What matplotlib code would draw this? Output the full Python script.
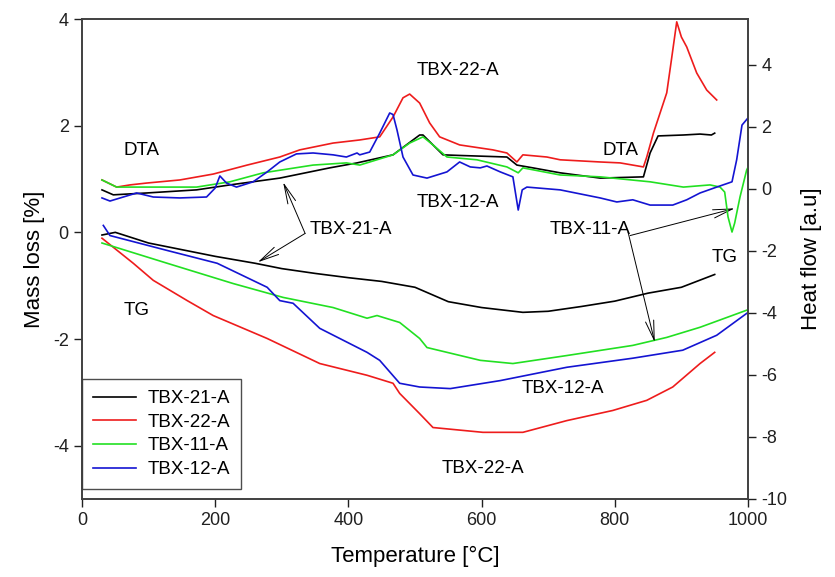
import matplotlib
matplotlib.use("Agg")
import matplotlib.pyplot as plt

plt.rcParams['font.family'] = ['Liberation Sans', 'DejaVu Sans']
plt.rcParams['axes.unicode_minus'] = False

# ---- TG curves (mass loss, left axis) ----
tg_21_T = [30, 50, 100, 200, 260, 300, 350, 400, 450, 500, 550, 600, 662, 700, 750, 800, 850, 900, 950]
tg_21_v = [-0.05, 0.0, -0.2, -0.45, -0.58, -0.68, -0.77, -0.85, -0.92, -1.03, -1.3, -1.41, -1.5, -1.48, -1.39, -1.29, -1.14, -1.03, -0.79]

tg_22_T = [30, 77, 107, 158, 197, 278, 357, 428, 467, 477, 507, 527, 602, 662, 728, 797, 848, 887, 928, 950]
tg_22_v = [-0.11, -0.58, -0.9, -1.28, -1.56, -1.99, -2.46, -2.68, -2.83, -3.02, -3.4, -3.66, -3.75, -3.75, -3.53, -3.34, -3.15, -2.9, -2.46, -2.25]

tg_11_T = [30, 128, 227, 302, 377, 428, 443, 477, 507, 518, 598, 647, 728, 827, 878, 928, 998]
tg_11_v = [-0.2, -0.58, -0.96, -1.22, -1.41, -1.61, -1.56, -1.69, -1.99, -2.16, -2.4, -2.46, -2.31, -2.12, -1.97, -1.78, -1.46]

tg_12_T = [32, 42, 128, 203, 278, 297, 317, 357, 428, 447, 477, 507, 553, 628, 728, 827, 902, 953, 998]
tg_12_v = [0.13, -0.06, -0.34, -0.58, -1.03, -1.28, -1.33, -1.8, -2.25, -2.4, -2.83, -2.9, -2.93, -2.78, -2.53, -2.36, -2.21, -1.93, -1.52]

# ---- DTA curves (heat flow, right axis) ----
dta_21_T = [30, 47, 97, 172, 222, 297, 372, 413, 467, 507, 512, 542, 567, 638, 653, 677, 718, 778, 843, 853, 865, 903, 928, 945, 950]
dta_21_v = [-0.03, -0.19, -0.13, -0.03, 0.13, 0.35, 0.68, 0.84, 1.1, 1.74, 1.74, 1.1, 1.08, 1.03, 0.77, 0.68, 0.52, 0.35, 0.39, 1.16, 1.71, 1.74, 1.77, 1.74, 1.8]

dta_22_T = [30, 52, 72, 97, 147, 197, 248, 297, 327, 377, 417, 447, 467, 482, 492, 507, 522, 537, 567, 617, 638, 653, 662, 698, 718, 778, 808, 843, 848, 858, 868, 878, 885, 893, 900, 908, 923, 938, 953]
dta_22_v = [0.29, 0.06, 0.13, 0.19, 0.29, 0.48, 0.77, 1.03, 1.26, 1.48, 1.58, 1.68, 2.32, 2.94, 3.06, 2.77, 2.13, 1.68, 1.42, 1.26, 1.16, 0.87, 1.1, 1.03, 0.94, 0.87, 0.84, 0.71, 1.03, 1.8, 2.45, 3.1, 4.16, 5.39, 4.9, 4.58, 3.74, 3.19, 2.87]

dta_11_T = [30, 52, 97, 172, 222, 272, 347, 397, 417, 467, 492, 512, 527, 548, 593, 638, 655, 662, 718, 778, 853, 903, 943, 958, 965, 970, 976, 980, 988, 998, 1000]
dta_11_v = [0.29, 0.06, 0.06, 0.06, 0.23, 0.52, 0.77, 0.84, 0.77, 1.1, 1.48, 1.68, 1.42, 1.03, 0.94, 0.71, 0.52, 0.68, 0.45, 0.39, 0.23, 0.06, 0.13, 0.06, -0.1, -0.9, -1.39, -1.1, -0.26, 0.61, 0.7]

dta_12_T = [30, 42, 62, 82, 107, 147, 187, 200, 207, 217, 232, 257, 278, 297, 322, 347, 377, 397, 413, 417, 432, 447, 462, 467, 473, 482, 497, 518, 548, 567, 583, 598, 608, 628, 647, 655, 661, 668, 718, 778, 803, 827, 853, 887, 908, 928, 953, 976, 983, 991, 1000]
dta_12_v = [-0.29, -0.39, -0.26, -0.13, -0.26, -0.29, -0.26, 0.03, 0.42, 0.19, 0.06, 0.23, 0.55, 0.87, 1.13, 1.16, 1.1, 1.03, 1.16, 1.1, 1.19, 1.8, 2.45, 2.4, 1.9, 1.03, 0.45, 0.35, 0.55, 0.87, 0.71, 0.68, 0.74, 0.55, 0.39, -0.68, -0.03, 0.06, -0.03, -0.29, -0.42, -0.35, -0.52, -0.52, -0.35, -0.13, 0.06, 0.23, 0.94, 2.06, 2.29]

names = ['TBX-21-A', 'TBX-22-A', 'TBX-11-A', 'TBX-12-A']
colors = ['black', '#ee1c1c', '#22e022', '#1414d2']

fig = plt.figure(figsize=(8.35, 5.77), dpi=100)
ax = fig.add_axes([0.0982, 0.1352, 0.7976, 0.8318])
ax2 = ax.twinx()

tg = [(tg_21_T, tg_21_v), (tg_22_T, tg_22_v), (tg_11_T, tg_11_v), (tg_12_T, tg_12_v)]
dta = [(dta_21_T, dta_21_v), (dta_22_T, dta_22_v), (dta_11_T, dta_11_v), (dta_12_T, dta_12_v)]

for (t, v), name, c in zip(tg, names, colors):
    ax.plot(t, v, color=c, lw=1.2, label=name)
for (t, v), c in zip(dta, colors):
    ax2.plot(t, v, color=c, lw=1.2)

ax.set_xlim(0, 1000)
ax.set_ylim(-5, 4)
ax.set_yticks([-4, -2, 0, 2, 4])
ax.set_xticks(range(0, 1001, 200))
ax2.set_ylim(-10, 5.48)
ax2.set_yticks([-10, -8, -6, -4, -2, 0, 2, 4])

for a in (ax, ax2):
    a.tick_params(direction='out', length=6, width=1, labelsize=13, colors='#202020')
    for s in a.spines.values():
        s.set_color('#404040')
        s.set_linewidth(1.2)

ax.set_xlabel('Temperature [°C]', fontsize=16, labelpad=12)
ax.set_ylabel('Mass loss [%]', fontsize=16, labelpad=6)
ax2.set_ylabel('Heat flow [a.u]', fontsize=16, labelpad=10)

leg = ax.legend(loc='lower left', bbox_to_anchor=(0.0, 0.02), fontsize=13.5,
                frameon=True, fancybox=False, borderaxespad=0, handlelength=2.3,
                handletextpad=0.6, labelspacing=0.35, borderpad=0.6)
leg.get_frame().set_edgecolor('#202020')
leg.get_frame().set_linewidth(1.0)

# text labels (left-axis data coordinates)
fs = 13.5
ax.text(62, 1.54, 'DTA', fontsize=fs, va='center')
ax.text(565, 3.04, 'TBX-22-A', fontsize=fs, ha='center', va='center')
ax.text(808, 1.54, 'DTA', fontsize=fs, ha='center', va='center')
ax.text(565, 0.56, 'TBX-12-A', fontsize=fs, ha='center', va='center')
ax.text(342, 0.06, 'TBX-21-A', fontsize=fs, va='center')
ax.text(763, 0.06, 'TBX-11-A', fontsize=fs, ha='center', va='center')
ax.text(965, -0.47, 'TG', fontsize=fs, ha='center', va='center')
ax.text(82, -1.46, 'TG', fontsize=fs, ha='center', va='center')
ax.text(722, -2.93, 'TBX-12-A', fontsize=fs, ha='center', va='center')
ax.text(602, -4.43, 'TBX-22-A', fontsize=fs, ha='center', va='center')

arrow = dict(arrowstyle='->, head_length=1.4, head_width=0.3', color='black',
             lw=0.7, shrinkA=0, shrinkB=0)
ax.annotate('', xy=(302, 0.94), xytext=(335, -0.02), arrowprops=arrow)
ax.annotate('', xy=(264, -0.56), xytext=(335, -0.02), arrowprops=arrow)
ax.annotate('', xy=(980, 0.45), xytext=(823, -0.06), arrowprops=arrow)
ax.annotate('', xy=(860, -2.06), xytext=(820, 0.0), arrowprops=arrow)

fig.savefig('out.png', dpi=100)
